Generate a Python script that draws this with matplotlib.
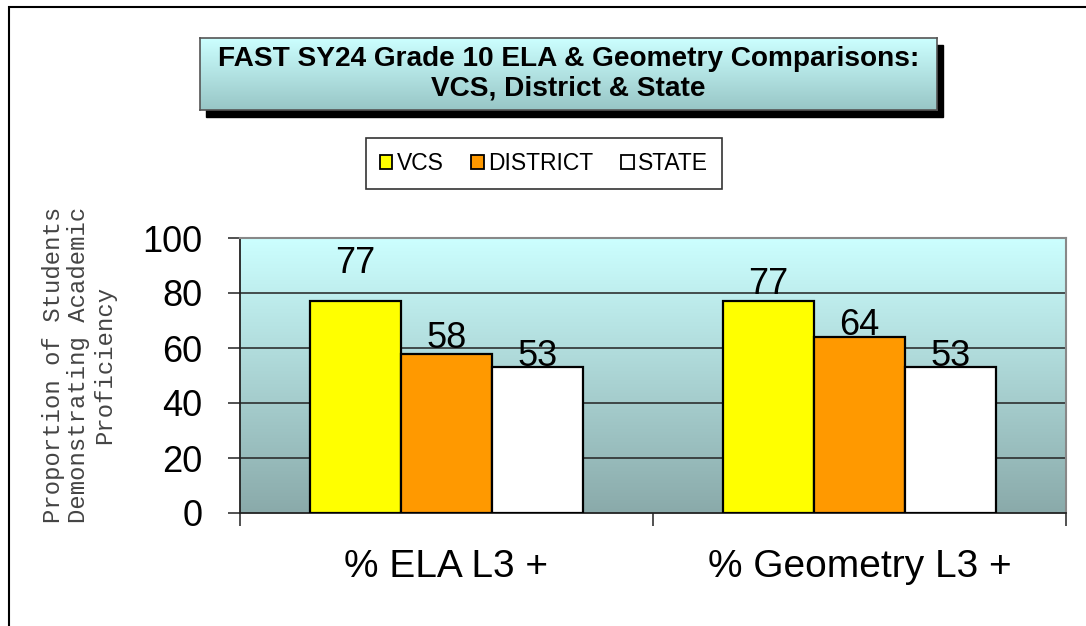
import numpy as np
import matplotlib
matplotlib.use("Agg")
import matplotlib.pyplot as plt
from matplotlib.colors import LinearSegmentedColormap
from matplotlib.patches import Rectangle

# ---- data ----
categories = ["% ELA L3 +", "% Geometry L3 +"]
series_names = ["VCS", "DISTRICT", "STATE"]
vcs = [77, 77]
district = [58, 64]
state = [53, 53]
y_ticks = [0, 20, 40, 60, 80, 100]
title_text = "FAST SY24 Grade 10 ELA & Geometry Comparisons:\nVCS, District & State"
ylabel_text = "Proportion of Students\nDemonstrating Academic\nProficiency"

# ---- style ----
colors = ["#FFFF00", "#FF9900", "#FFFFFF"]
label_pad_px = [[28, 5, 1], [7, 2, 1]]   # label gap above bars (px)
W, H, DPI = 1086, 626, 100
SANS = ["Liberation Sans", "DejaVu Sans"]

plt.rcParams["font.family"] = SANS

fig = plt.figure(figsize=(W / DPI, H / DPI), dpi=DPI)
fig.patch.set_facecolor("white")

def fx(px):
    return px / W

def fy(py):
    return 1 - py / H

# outer border (left & top visible)
fig.patches.append(Rectangle((fx(9), fy(H + 20)), fx(W + 40), (H + 20 - 7) / H,
                             transform=fig.transFigure, fill=False,
                             edgecolor="black", lw=1.5, zorder=0))

# ---- main axes ----
ax = fig.add_axes([fx(240), fy(513), fx(1066 - 240), (513 - 238) / H])
bg_cmap = LinearSegmentedColormap.from_list("bg", ["#8AAAAA", "#CCFFFF"])
grad = np.linspace(0, 1, 256).reshape(-1, 1)
ax.imshow(grad, cmap=bg_cmap, origin="lower", aspect="auto",
          extent=[-0.5, 1.5, 0, 100], zorder=0, interpolation="bicubic")

x = np.arange(len(categories))
bw = 0.22
all_series = [vcs, district, state]
containers = []
for i, (vals, col, name) in enumerate(zip(all_series, colors, series_names)):
    bars = ax.bar(x + (i - 1) * bw, vals, width=bw, color=col,
                  edgecolor="black", linewidth=1.6, label=name, zorder=3)
    containers.append(bars)
    for j, (b, v) in enumerate(zip(bars, vals)):
        ax.annotate(f"{v}", (b.get_x() + b.get_width() / 2, v),
                    xytext=(0, label_pad_px[j][i] * 72 / DPI),
                    textcoords="offset points", ha="center", va="baseline",
                    fontsize=26, color="black", zorder=5)

ax.set_xlim(-0.5, 1.5)
ax.set_ylim(0, 100)
ax.set_yticks(y_ticks)
ax.set_yticklabels([str(t) for t in y_ticks])
for yv in y_ticks[1:-1]:
    ax.axhline(yv, color="#222222", lw=1.1, zorder=1)

ax.set_xticks([-0.5, 0.5, 1.5])
ax.set_xticklabels(["", "", ""])
ax.set_xticks(x, minor=True)
ax.set_xticklabels(categories, minor=True)
ax.tick_params(axis="x", which="major", direction="out", length=9, width=1.2,
               color="#333333")
ax.tick_params(axis="x", which="minor", length=0, pad=26, labelsize=28)
ax.tick_params(axis="y", direction="out", length=9, width=1.2, color="#333333",
               pad=18, labelsize=26)

for s in ["top", "right"]:
    ax.spines[s].set_color("#888888")
    ax.spines[s].set_linewidth(1.5)
for s in ["left", "bottom"]:
    ax.spines[s].set_color("#222222")
    ax.spines[s].set_linewidth(1.3)

# y label
fig.text(fx(79), fy(365), ylabel_text, rotation=90, ha="center", va="center",
         multialignment="center", family=["Liberation Mono", "DejaVu Sans Mono"],
         fontsize=17.2, color="#444444", linespacing=1.15)

# ---- title box ----
tx0, ty0, tx1, ty1 = 200, 38, 937, 110
fig.patches.append(Rectangle((fx(tx0 + 6), fy(ty1 + 7)), fx(tx1 - tx0), (ty1 - ty0) / H,
                             transform=fig.transFigure, facecolor="black",
                             edgecolor="black", zorder=1))
tax = fig.add_axes([fx(tx0), fy(ty1), fx(tx1 - tx0), (ty1 - ty0) / H], zorder=2)
title_cmap = LinearSegmentedColormap.from_list("tb", ["#98C6C6", "#CCFFFF"])
tax.imshow(grad, cmap=title_cmap, origin="lower", aspect="auto",
           extent=[0, 1, 0, 1], interpolation="bicubic")
tax.set_xlim(0, 1)
tax.set_ylim(0, 1)
tax.set_xticks([])
tax.set_yticks([])
for s in tax.spines.values():
    s.set_color("#555555")
    s.set_linewidth(1.2)
tax.text(0.5, 0.5, title_text, ha="center", va="center", fontsize=20.2,
         fontweight="bold", linespacing=1.2, transform=tax.transAxes)

# ---- legend ----
leg = fig.legend(handles=containers, labels=series_names, loc="center",
                 bbox_to_anchor=(fx(544), fy(163.5)), ncol=3, fontsize=16.5,
                 frameon=True, fancybox=False, edgecolor="black",
                 handlelength=0.55, handleheight=0.55, handletextpad=0.2,
                 columnspacing=1.2, borderpad=0.6, borderaxespad=0)
leg.get_frame().set_linewidth(1.2)
for h in leg.legend_handles:
    h.set_linewidth(1.3)

fig.savefig("out.png", dpi=DPI)
